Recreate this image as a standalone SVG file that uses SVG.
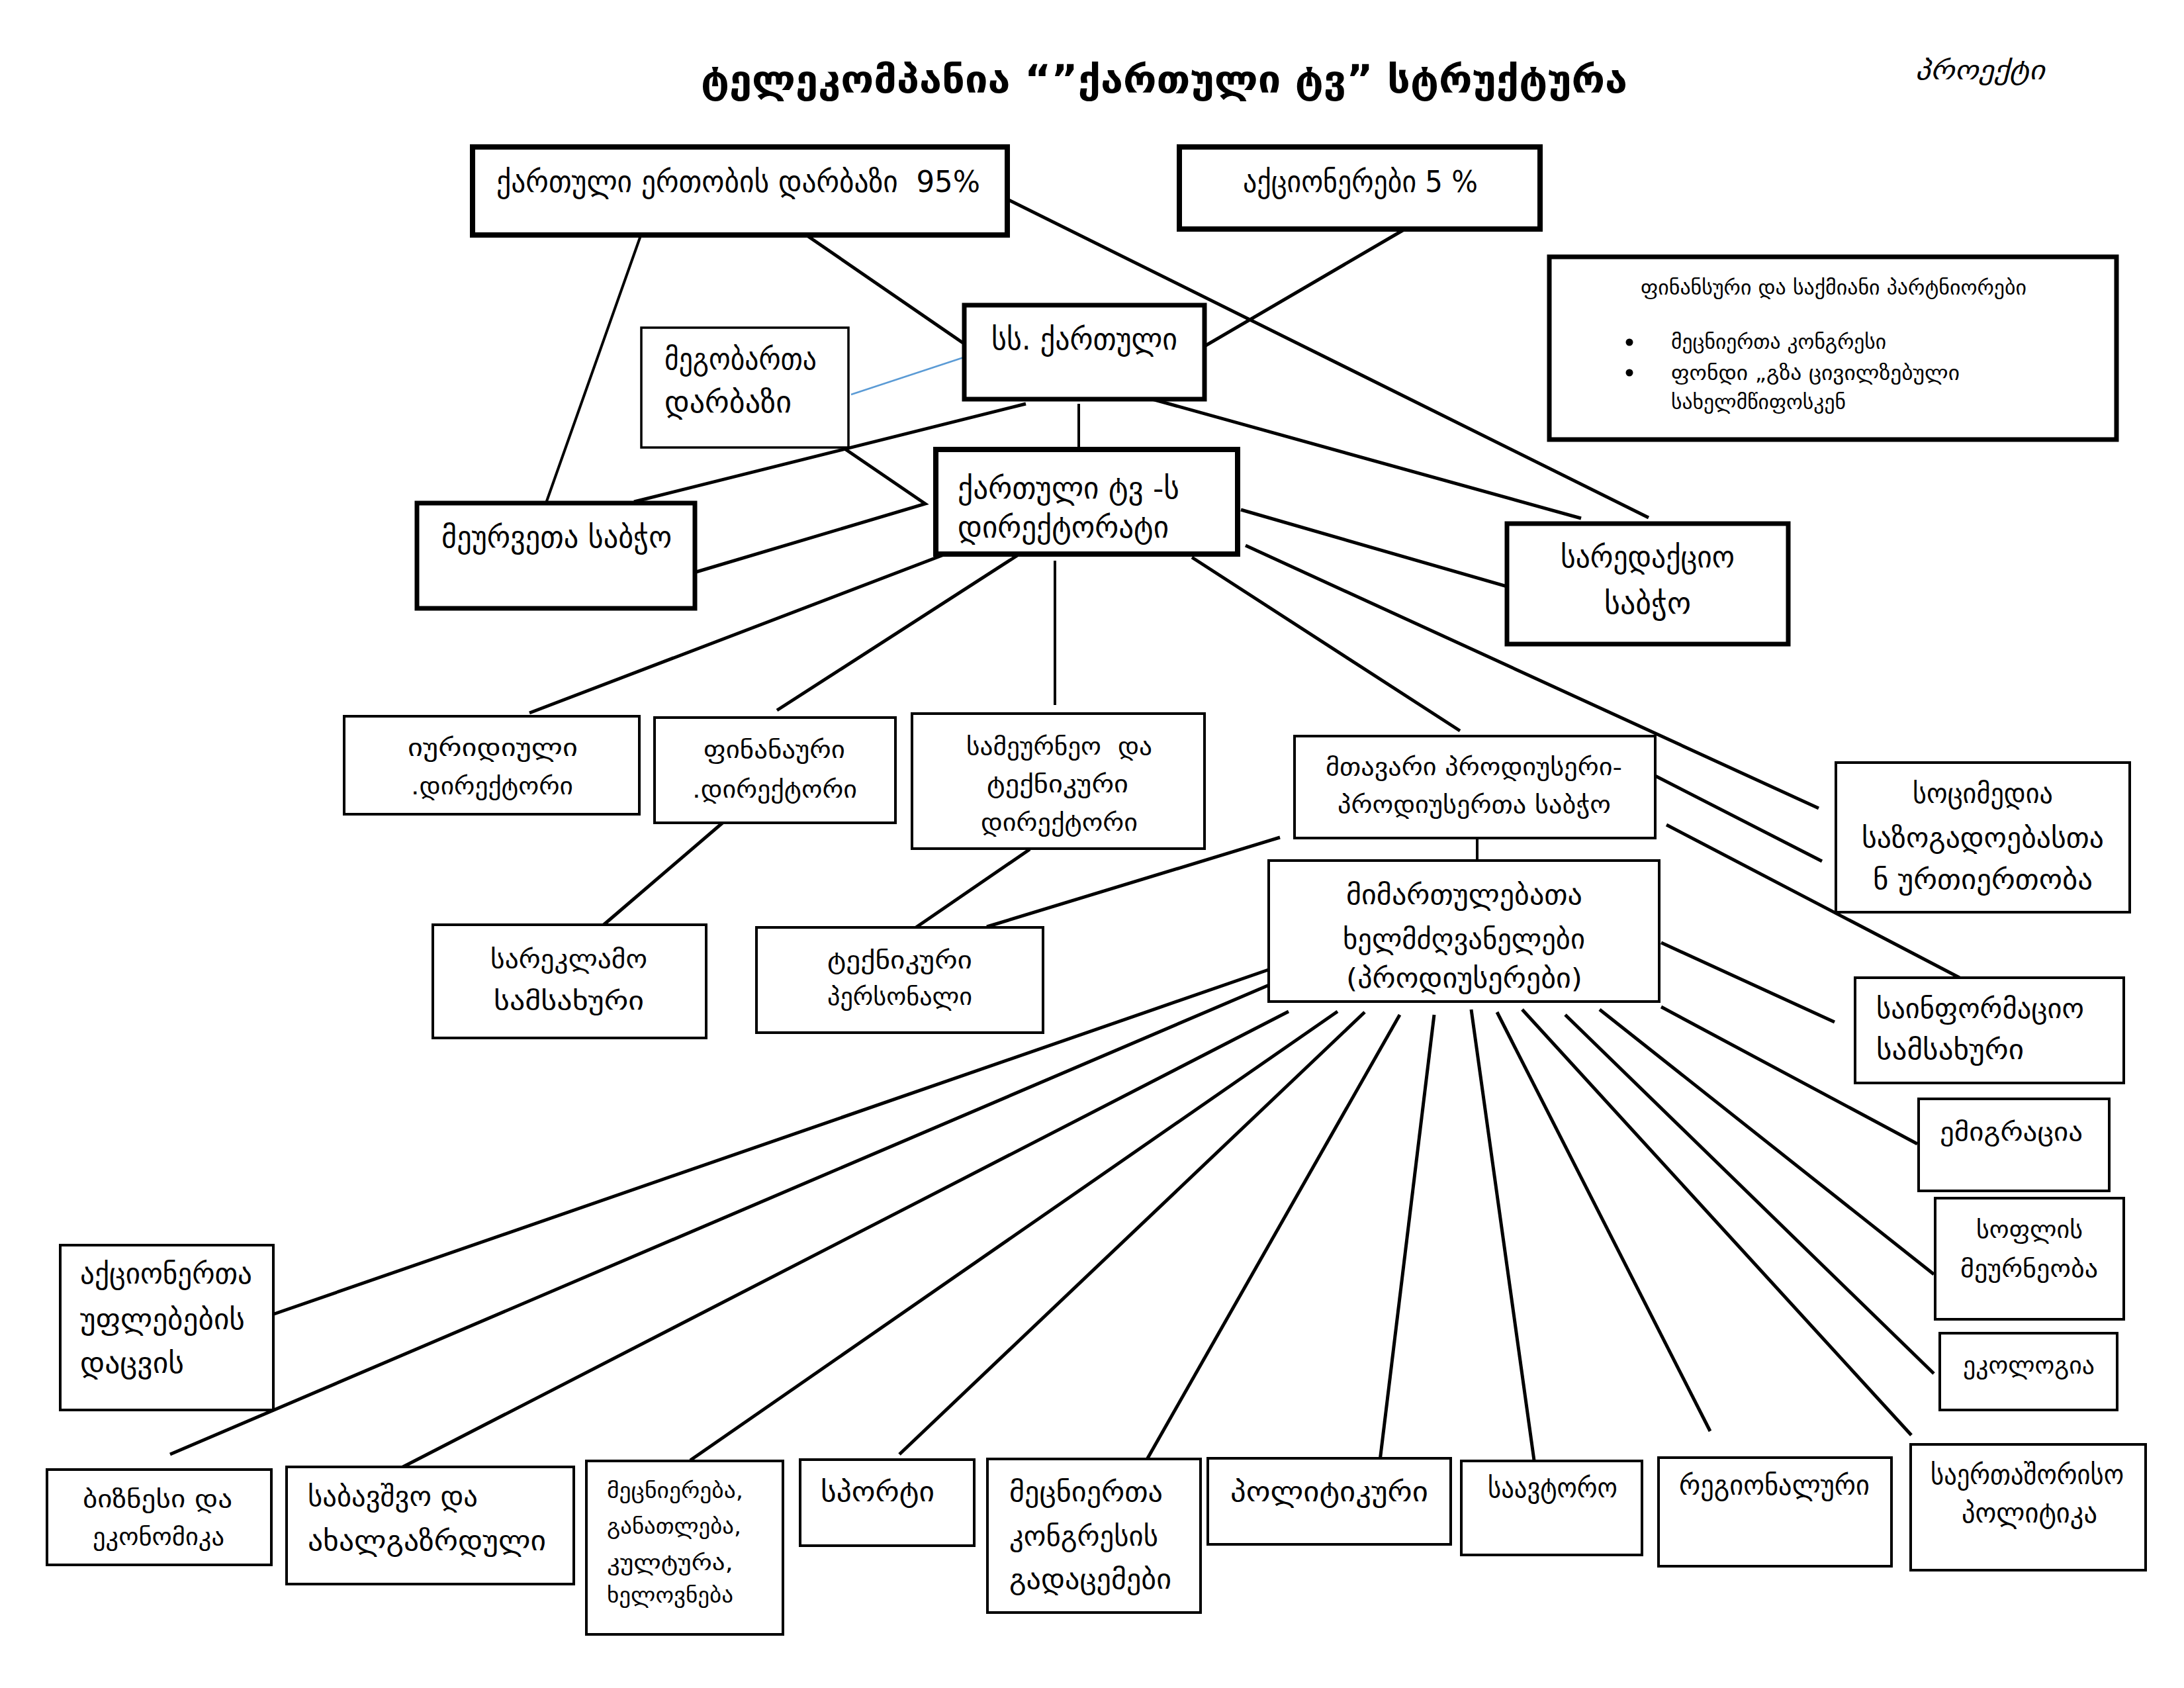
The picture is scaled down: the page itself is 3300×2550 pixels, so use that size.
<svg xmlns="http://www.w3.org/2000/svg" width="3300" height="2550" viewBox="0 0 3300 2550">
<style>
.bx{fill:#fff;stroke:#000}
.w8{stroke-width:8}.w7{stroke-width:7}.w4{stroke-width:4}.w3{stroke-width:3.5}
.t{font-family:"DejaVu Sans","Noto Sans",sans-serif;fill:#000}
.ln{stroke:#000;stroke-width:5;fill:none}
.th{stroke-width:4}
</style>
<rect width="3300" height="2550" fill="#fff"/>
<g id="title">
<text class="t" x="1059" y="140" font-size="58" font-weight="bold" textLength="1400" lengthAdjust="spacingAndGlyphs">ტელეკომპანია “”ქართული ტვ” სტრუქტურა</text>
<text class="t" x="2894" y="120" font-size="40" font-style="italic" textLength="196" lengthAdjust="spacingAndGlyphs">პროექტი</text>
</g>
<g id="connectors">
<line class="ln th" x1="968" y1="356" x2="825" y2="760"/>
<line class="ln" x1="1221" y1="357" x2="1455" y2="518"/>
<line class="ln" x1="1524" y1="302" x2="2491" y2="782"/>
<line class="ln" x1="2123" y1="346" x2="1820" y2="523"/>
<line x1="1286" y1="596" x2="1468" y2="536" stroke="#5b9bd5" stroke-width="2.5"/>
<line class="ln" x1="1550" y1="610" x2="958" y2="758" stroke-width="6"/>
<line class="ln th" x1="1630" y1="610" x2="1630" y2="675"/>
<line class="ln" x1="1741" y1="603" x2="2389" y2="783"/>
<polyline class="ln" points="1275,677 1398,761 1052,864"/>
<line class="ln" x1="1455" y1="827" x2="800" y2="1077"/>
<line class="ln" x1="1556" y1="827" x2="1174" y2="1073"/>
<line class="ln th" x1="1594" y1="847" x2="1594" y2="1065"/>
<line class="ln" x1="1801" y1="842" x2="2206" y2="1104"/>
<line class="ln" x1="1875" y1="770" x2="2298" y2="892"/>
<line class="ln" x1="1882" y1="824" x2="2748" y2="1221"/>
<line class="ln" x1="2499" y1="1171" x2="2753" y2="1301"/>
<line class="ln" x1="2518" y1="1246" x2="2961" y2="1477"/>
<line class="ln" x1="1934" y1="1265" x2="1491" y2="1400"/>
<line class="ln" x1="1100" y1="1236" x2="911" y2="1398"/>
<line class="ln" x1="1556" y1="1283" x2="1384" y2="1401"/>
<line class="ln th" x1="2232" y1="1266" x2="2232" y2="1300"/>
<line class="ln" x1="2510" y1="1424" x2="2772" y2="1544"/>
<line class="ln" x1="1928" y1="1461" x2="414" y2="1985"/>
<line class="ln" x1="1948" y1="1475" x2="257" y2="2197"/>
<line class="ln" x1="1947" y1="1528" x2="599" y2="2221"/>
<line class="ln" x1="2021" y1="1528" x2="1043" y2="2206"/>
<line class="ln" x1="2062" y1="1529" x2="1359" y2="2197"/>
<line class="ln" x1="2115" y1="1533" x2="1726" y2="2217"/>
<line class="ln" x1="2167" y1="1533" x2="2085" y2="2207"/>
<line class="ln" x1="2223" y1="1525" x2="2318" y2="2206"/>
<line class="ln" x1="2262" y1="1529" x2="2584" y2="2162"/>
<line class="ln" x1="2300" y1="1525" x2="2888" y2="2168"/>
<line class="ln" x1="2365" y1="1533" x2="2922" y2="2075"/>
<line class="ln" x1="2417" y1="1525" x2="2922" y2="1925"/>
<line class="ln" x1="2510" y1="1521" x2="2897" y2="1728"/>
</g>
<g id="n_darbazi95">
<rect class="bx w8" x="714" y="222" width="808" height="133"/>
<text class="t" x="750" y="290" font-size="45" xml:space="preserve" textLength="731" lengthAdjust="spacingAndGlyphs">ქართული ერთობის დარბაზი  95%</text>
</g>
<g id="n_aqcionerebi">
<rect class="bx w8" x="1782" y="222" width="545" height="124"/>
<text class="t" x="1878" y="290" font-size="45" textLength="355" lengthAdjust="spacingAndGlyphs">აქციონერები 5 %</text>
</g>
<g id="n_ss_qartuli">
<rect class="bx w7" x="1457" y="461" width="363" height="142"/>
<text class="t" x="1498" y="528" font-size="45" textLength="281" lengthAdjust="spacingAndGlyphs">სს. ქართული</text>
</g>
<g id="n_megobarta">
<rect class="bx w3" x="969" y="495" width="313" height="181"/>
<text class="t" x="1004" y="558" font-size="45" textLength="230" lengthAdjust="spacingAndGlyphs">მეგობართა</text>
<text class="t" x="1004" y="623" font-size="45" textLength="192" lengthAdjust="spacingAndGlyphs">დარბაზი</text>
</g>
<g id="n_direqtorati">
<rect class="bx w8" x="1414" y="679" width="456" height="158"/>
<text class="t" x="1447" y="753" font-size="45" textLength="335" lengthAdjust="spacingAndGlyphs">ქართული ტვ -ს</text>
<text class="t" x="1447" y="812" font-size="45" textLength="319" lengthAdjust="spacingAndGlyphs">დირექტორატი</text>
</g>
<g id="n_meurveta">
<rect class="bx w7" x="630" y="760" width="420" height="159"/>
<text class="t" x="667" y="827" font-size="45" textLength="348" lengthAdjust="spacingAndGlyphs">მეურვეთა საბჭო</text>
</g>
<g id="n_saredaqcio">
<rect class="bx w7" x="2277" y="791" width="425" height="182"/>
<text class="t" x="2358" y="857" font-size="45" textLength="263" lengthAdjust="spacingAndGlyphs">სარედაქციო</text>
<text class="t" x="2424" y="927" font-size="45" textLength="131" lengthAdjust="spacingAndGlyphs">საბჭო</text>
</g>
<g id="n_partniorebi">
<rect class="bx w7" x="2341" y="388" width="857" height="276"/>
<text class="t" x="2479" y="445" font-size="31" textLength="583" lengthAdjust="spacingAndGlyphs">ფინანსური და საქმიანი პარტნიორები</text>
<circle cx="2462" cy="517" r="5.5"/>
<circle cx="2462" cy="563" r="5.5"/>
<text class="t" x="2525" y="527" font-size="31" textLength="325" lengthAdjust="spacingAndGlyphs">მეცნიერთა კონგრესი</text>
<text class="t" x="2525" y="574" font-size="31" textLength="436" lengthAdjust="spacingAndGlyphs">ფონდი „გზა ცივილზებული</text>
<text class="t" x="2525" y="618" font-size="31" textLength="264" lengthAdjust="spacingAndGlyphs">სახელმწიფოსკენ</text>
</g>
<g id="n_iuridiuli">
<rect class="bx w4" x="520" y="1082" width="446" height="148"/>
<text class="t" x="616" y="1142" font-size="36" textLength="257" lengthAdjust="spacingAndGlyphs">იურიდიული</text>
<text class="t" x="621" y="1200" font-size="36" textLength="245" lengthAdjust="spacingAndGlyphs">.დირექტორი</text>
</g>
<g id="n_finansuri">
<rect class="bx w4" x="989" y="1084" width="364" height="159"/>
<text class="t" x="1063" y="1145" font-size="36" textLength="214" lengthAdjust="spacingAndGlyphs">ფინანაური</text>
<text class="t" x="1046" y="1205" font-size="36" textLength="249" lengthAdjust="spacingAndGlyphs">.დირექტორი</text>
</g>
<g id="n_sameurneo">
<rect class="bx w4" x="1378" y="1078" width="442" height="204"/>
<text class="t" x="1460" y="1140" font-size="36" xml:space="preserve" textLength="281" lengthAdjust="spacingAndGlyphs">სამეურნეო  და</text>
<text class="t" x="1491" y="1197" font-size="36" textLength="214" lengthAdjust="spacingAndGlyphs">ტექნიკური</text>
<text class="t" x="1482" y="1255" font-size="36" textLength="237" lengthAdjust="spacingAndGlyphs">დირექტორი</text>
</g>
<g id="n_sareklamo">
<rect class="bx w4" x="654" y="1397" width="413" height="171"/>
<text class="t" x="741" y="1462" font-size="39" textLength="237" lengthAdjust="spacingAndGlyphs">სარეკლამო</text>
<text class="t" x="746" y="1525" font-size="39" textLength="227" lengthAdjust="spacingAndGlyphs">სამსახური</text>
</g>
<g id="n_teqnikuri_personali">
<rect class="bx w4" x="1143" y="1401" width="433" height="159"/>
<text class="t" x="1250" y="1463" font-size="36" textLength="219" lengthAdjust="spacingAndGlyphs">ტექნიკური</text>
<text class="t" x="1250" y="1518" font-size="36" textLength="219" lengthAdjust="spacingAndGlyphs">პერსონალი</text>
</g>
<g id="n_mtavari_prodiuseri">
<rect class="bx w4" x="1956" y="1112" width="545" height="154"/>
<text class="t" x="2003" y="1171" font-size="36" textLength="448" lengthAdjust="spacingAndGlyphs">მთავარი პროდიუსერი-</text>
<text class="t" x="2021" y="1228" font-size="36" textLength="413" lengthAdjust="spacingAndGlyphs">პროდიუსერთა საბჭო</text>
</g>
<g id="n_mimartulebata">
<rect class="bx w4" x="1917" y="1300" width="590" height="213"/>
<text class="t" x="2034" y="1366" font-size="41" textLength="357" lengthAdjust="spacingAndGlyphs">მიმართულებათა</text>
<text class="t" x="2029" y="1433" font-size="41" textLength="366" lengthAdjust="spacingAndGlyphs">ხელმძღვანელები</text>
<text class="t" x="2034" y="1492" font-size="41" textLength="357" lengthAdjust="spacingAndGlyphs">(პროდიუსერები)</text>
</g>
<g id="n_socmedia">
<rect class="bx w4" x="2774" y="1152" width="444" height="226"/>
<text class="t" x="2890" y="1213" font-size="41" textLength="212" lengthAdjust="spacingAndGlyphs">სოციმედია</text>
<text class="t" x="2813" y="1280" font-size="41" textLength="366" lengthAdjust="spacingAndGlyphs">საზოგადოებასთა</text>
<text class="t" x="2830" y="1343" font-size="41" textLength="332" lengthAdjust="spacingAndGlyphs">ნ ურთიერთობა</text>
</g>
<g id="n_sainformacio">
<rect class="bx w4" x="2803" y="1477" width="406" height="159"/>
<text class="t" x="2835" y="1538" font-size="41" textLength="314" lengthAdjust="spacingAndGlyphs">საინფორმაციო</text>
<text class="t" x="2835" y="1600" font-size="41" textLength="223" lengthAdjust="spacingAndGlyphs">სამსახური</text>
</g>
<g id="n_emigracia">
<rect class="bx w4" x="2899" y="1660" width="288" height="139"/>
<text class="t" x="2931" y="1723" font-size="38" textLength="216" lengthAdjust="spacingAndGlyphs">ემიგრაცია</text>
</g>
<g id="n_soflis">
<rect class="bx w4" x="2924" y="1810" width="285" height="183"/>
<text class="t" x="2986" y="1870" font-size="36" textLength="161" lengthAdjust="spacingAndGlyphs">სოფლის</text>
<text class="t" x="2962" y="1929" font-size="36" textLength="208" lengthAdjust="spacingAndGlyphs">მეურნეობა</text>
</g>
<g id="n_ekologia">
<rect class="bx w4" x="2931" y="2014" width="268" height="116"/>
<text class="t" x="2966" y="2075" font-size="36" textLength="199" lengthAdjust="spacingAndGlyphs">ეკოლოგია</text>
</g>
<g id="n_aqcionerta_uflebebi">
<rect class="bx w4" x="91" y="1881" width="322" height="249"/>
<text class="t" x="121" y="1939" font-size="43" textLength="260" lengthAdjust="spacingAndGlyphs">აქციონერთა</text>
<text class="t" x="121" y="2008" font-size="43" textLength="249" lengthAdjust="spacingAndGlyphs">უფლებების</text>
<text class="t" x="121" y="2074" font-size="43" textLength="157" lengthAdjust="spacingAndGlyphs">დაცვის</text>
</g>
<g id="n_biznesi">
<rect class="bx w4" x="71" y="2220" width="339" height="144"/>
<text class="t" x="125" y="2277" font-size="36" textLength="226" lengthAdjust="spacingAndGlyphs">ბიზნესი და</text>
<text class="t" x="140" y="2334" font-size="36" textLength="199" lengthAdjust="spacingAndGlyphs">ეკონომიკა</text>
</g>
<g id="n_sabavshvo">
<rect class="bx w4" x="433" y="2216" width="434" height="177"/>
<text class="t" x="465" y="2275" font-size="41" textLength="257" lengthAdjust="spacingAndGlyphs">საბავშვო და</text>
<text class="t" x="465" y="2342" font-size="41" textLength="360" lengthAdjust="spacingAndGlyphs">ახალგაზრდული</text>
</g>
<g id="n_mecniereba">
<rect class="bx w4" x="886" y="2207" width="297" height="262"/>
<text class="t" x="917" y="2263" font-size="32" textLength="206" lengthAdjust="spacingAndGlyphs">მეცნიერება,</text>
<text class="t" x="917" y="2317" font-size="32" textLength="203" lengthAdjust="spacingAndGlyphs">განათლება,</text>
<text class="t" x="917" y="2372" font-size="32" textLength="191" lengthAdjust="spacingAndGlyphs">კულტურა,</text>
<text class="t" x="917" y="2421" font-size="32" textLength="191" lengthAdjust="spacingAndGlyphs">ხელოვნება</text>
</g>
<g id="n_sporti">
<rect class="bx w4" x="1209" y="2205" width="263" height="130"/>
<text class="t" x="1240" y="2268" font-size="41" textLength="172" lengthAdjust="spacingAndGlyphs">სპორტი</text>
</g>
<g id="n_mecnierta_kongresi">
<rect class="bx w4" x="1492" y="2204" width="322" height="232"/>
<text class="t" x="1525" y="2268" font-size="41" textLength="232" lengthAdjust="spacingAndGlyphs">მეცნიერთა</text>
<text class="t" x="1525" y="2335" font-size="41" textLength="225" lengthAdjust="spacingAndGlyphs">კონგრესის</text>
<text class="t" x="1525" y="2400" font-size="41" textLength="245" lengthAdjust="spacingAndGlyphs">გადაცემები</text>
</g>
<g id="n_politikuri">
<rect class="bx w4" x="1825" y="2203" width="367" height="130"/>
<text class="t" x="1859" y="2268" font-size="41" textLength="299" lengthAdjust="spacingAndGlyphs">პოლიტიკური</text>
</g>
<g id="n_saavtoro">
<rect class="bx w4" x="2208" y="2207" width="273" height="142"/>
<text class="t" x="2248" y="2262" font-size="41" textLength="196" lengthAdjust="spacingAndGlyphs">საავტორო</text>
</g>
<g id="n_regionaluri">
<rect class="bx w4" x="2506" y="2202" width="352" height="164"/>
<text class="t" x="2537" y="2258" font-size="41" textLength="288" lengthAdjust="spacingAndGlyphs">რეგიონალური</text>
</g>
<g id="n_saertashoriso">
<rect class="bx w4" x="2887" y="2182" width="355" height="190"/>
<text class="t" x="2917" y="2242" font-size="41" textLength="292" lengthAdjust="spacingAndGlyphs">საერთაშორისო</text>
<text class="t" x="2964" y="2300" font-size="41" textLength="205" lengthAdjust="spacingAndGlyphs">პოლიტიკა</text>
</g>
</svg>
